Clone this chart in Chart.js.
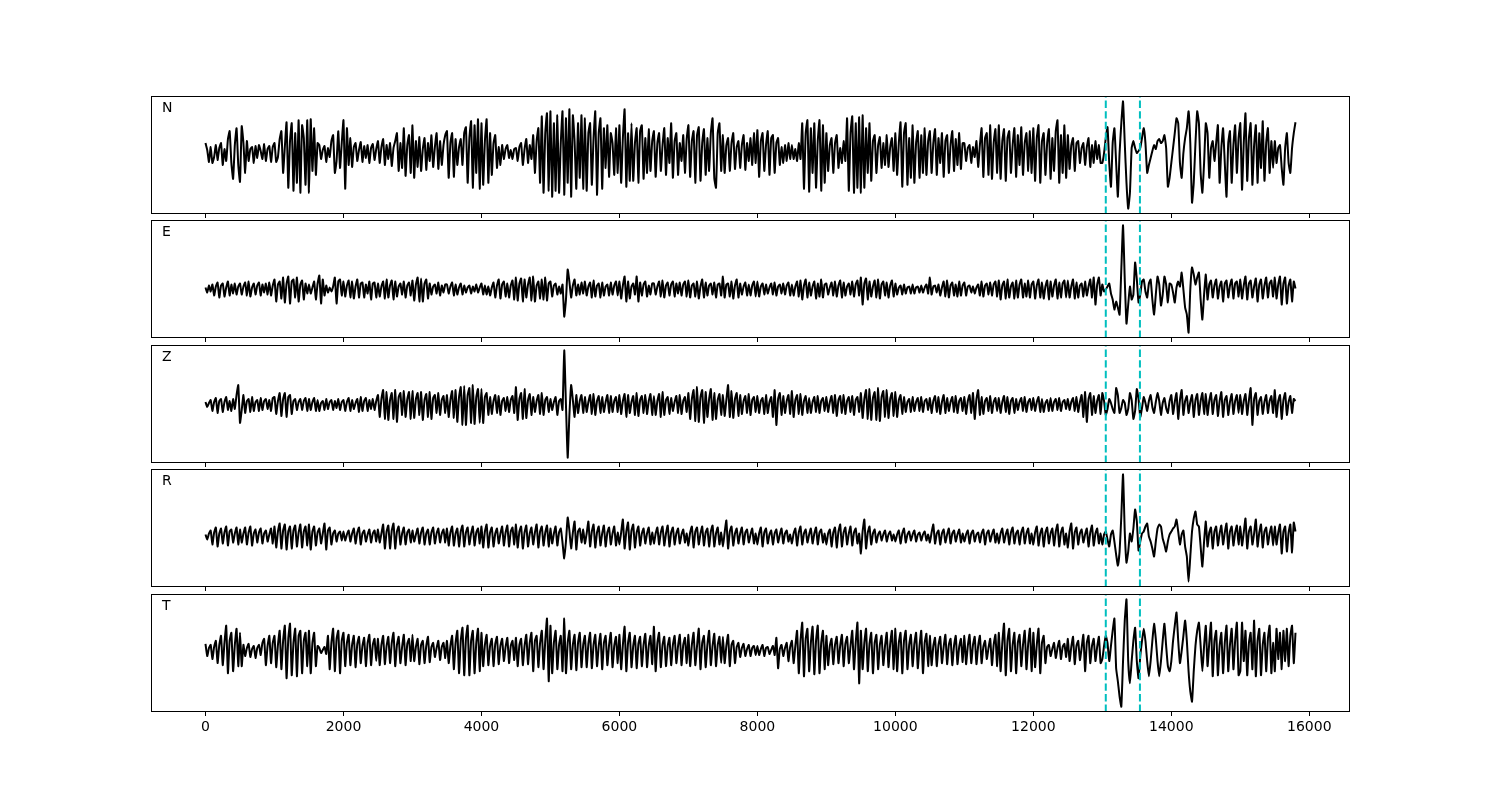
<!DOCTYPE html>
<html>
<head>
<meta charset="utf-8">
<title>Seismogram N E Z R T</title>
<script src="https://cdn.jsdelivr.net/npm/chart.js@4.4.1/dist/chart.umd.min.js"></script>
<style>
  html, body { margin: 0; padding: 0; background: #fff; }
  #fig { position: relative; width: 1500px; height: 800px; background: #fff; }
  #fig canvas { position: absolute; }
</style>
</head>
<body>
<div id="fig"></div>
<script>
// DONNÉES : un échantillon tous les dt (amplitudes), 20 valeurs par ligne = 500 unités
const dt = 25;
const channels = ['N', 'E', 'Z', 'R', 'T'];
const picks = [13050, 13545];
const xTicks = [0, 2000, 4000, 6000, 8000, 10000, 12000, 14000, 16000];

const nData = [
  10,3,-9,6,-10,-4,8,-7,5,10,-12,4,-8,14,22,-10,-26,8,25,-12,
  -29,27,10,-20,12,-8,4,6,-10,7,-5,8,2,-6,9,-8,4,7,-9,6,
  10,-9,-4,14,22,-20,6,31,-35,12,30,-38,20,-30,33,-40,28,15,-32,33,
  -40,34,-18,25,-22,10,8,-6,3,7,-9,5,-4,12,18,-20,-8,22,-15,10,
  33,-36,25,-12,15,-14,6,10,-8,3,11,-9,7,-5,8,-10,5,9,-7,4,
  12,-10,6,14,-12,8,-6,10,-13,5,12,20,-18,10,-15,25,-23,8,18,-20,
  28,-25,12,-14,16,-18,4,15,-17,10,-8,18,-14,6,20,-16,12,-12,8,18,
  22,-25,10,20,-24,14,-12,6,14,-12,20,26,-30,15,32,-35,28,-20,34,-36,
  30,-32,12,34,-30,20,-22,10,18,-15,6,-12,8,-6,4,8,-5,3,-6,4,
  5,-8,6,10,-12,4,14,-10,8,-6,18,-20,12,25,-30,37,-40,20,40,-38,
  42,-44,30,-38,38,-40,10,42,-42,35,-30,44,-44,38,12,-36,30,-25,38,-36,
  35,-38,20,30,-32,15,42,-42,20,35,-36,25,-15,28,-24,20,10,-22,25,-20,
  28,-30,15,44,-34,20,-28,30,-28,10,25,-30,22,28,-26,15,-20,24,-18,12,
  22,-24,10,20,-18,8,25,-22,15,-10,30,-25,12,20,-22,10,-8,18,-20,14,
  28,-24,12,22,-30,18,26,-28,10,24,-22,15,-18,20,35,-25,-35,20,30,-18,
  18,-20,8,15,-18,10,20,-16,6,12,-15,8,18,-17,10,-8,15,-12,20,-10,
  23,-24,12,20,-18,8,22,-22,15,18,-20,10,15,-12,6,-10,8,-8,10,-6,
  8,-6,4,-8,10,-6,30,-36,20,33,-39,25,-20,30,-35,12,33,-38,28,-30,
  20,-18,8,15,-20,10,18,-15,5,-10,12,-8,35,-38,20,37,-40,30,-35,36,
  -40,38,-35,25,-20,30,-28,12,18,-20,8,16,-15,10,-12,18,-14,6,15,-18,
  20,-22,10,31,-34,20,30,-32,15,-25,28,-30,10,22,-25,18,-20,25,-22,12,
  22,-20,10,24,-22,15,-10,20,-24,12,18,-20,8,22,-18,14,-12,20,-16,10,
  10,-8,5,8,-10,6,-4,12,-14,8,25,-24,15,20,-22,28,-26,10,24,-20,
  28,-26,12,24,-28,15,22,-20,8,25,-24,18,-12,26,-22,10,20,-18,22,-20,
  25,-28,15,28,-30,12,20,-22,10,24,-26,15,-18,22,33,-30,18,-20,28,-25,
  18,-16,8,15,-18,10,12,-10,5,10,-12,6,15,-14,8,-10,12,-6,8,-10,
  -10,0,15,26,-10,-34,10,25,-10,-44,0,30,52,10,-30,-56,-40,5,12,5,
  0,2,5,15,25,10,-20,-12,-5,2,8,4,12,14,10,12,18,5,-34,-25,
  -10,5,20,35,30,-10,-25,0,15,25,42,10,-50,-30,10,42,30,-20,-40,-10,
  30,20,-25,5,12,-8,10,28,-30,5,25,-10,-44,10,22,-30,8,28,-20,15,
  30,-37,10,40,-28,15,30,-32,8,28,-30,20,-15,32,-28,10,25,-20,12,-15,
  12,-10,5,8,-15,-32,5,20,-10,-20,5,20,31
];

const eData = [
  2,-3,4,-2,5,-6,3,7,-8,4,6,-7,2,8,-6,5,-4,6,-5,3,
  6,-5,3,7,-6,8,-7,2,6,-5,4,7,-6,5,-3,6,-5,7,-6,4,
  10,-12,5,8,-9,12,-13,6,13,-14,8,10,-8,12,-12,5,9,-10,6,-4,
  5,-4,2,8,-10,6,14,-14,10,-6,4,-3,2,-2,3,12,-14,8,10,-6,
  8,-7,4,9,-8,8,-9,3,10,-8,6,7,-8,5,-4,8,-10,6,7,-8,
  6,-7,3,8,-9,10,-8,4,9,-10,8,-7,3,6,-5,8,-8,4,7,-6,
  9,-11,5,12,-12,11,-12,6,10,-9,6,-5,3,5,-4,7,-6,4,-3,5,
  5,-4,3,7,-6,5,-5,2,6,-5,4,-3,2,4,-4,3,-2,5,-3,2,
  6,-5,4,-5,3,-6,2,7,-8,4,10,-9,5,8,-7,6,-8,4,9,-10,
  12,-11,6,11,-12,10,-8,5,12,-11,13,-12,4,8,-9,10,-10,12,-11,6,
  8,-7,4,6,-5,3,-4,5,-27,-10,20,8,-8,4,10,-6,5,-5,7,-4,
  8,-6,3,7,-8,9,-7,4,6,-8,7,-6,3,5,-6,7,-5,4,8,-6,
  8,-9,4,13,-12,8,-9,3,6,-5,13,-12,7,-6,5,8,-7,4,-5,6,
  6,-5,3,8,-7,9,-8,4,7,-6,5,8,-7,6,-4,7,-6,5,8,-7,
  9,-8,4,6,-7,8,-9,3,10,-8,7,-6,4,6,-5,7,-8,5,6,-6,
  13,-8,5,6,-7,8,-9,4,10,-8,6,-5,3,7,-6,5,-6,4,8,-7,
  8,-7,3,6,-5,5,-4,2,6,-5,7,-6,3,5,-4,6,-5,4,7,-6,
  5,-6,3,8,-7,9,-10,4,10,-8,7,-6,3,8,-9,6,-7,10,-8,5,
  6,-5,2,7,-6,8,-7,4,9,-8,7,-6,3,6,-5,8,-7,5,9,-6,
  12,-15,6,11,-10,8,-7,3,9,-8,10,-9,5,8,-6,7,-8,4,9,-7,
  6,-5,2,4,-5,5,-4,2,3,-4,5,-4,2,3,-3,4,-3,2,5,-4,
  12,-5,3,4,-3,5,-6,2,8,-7,9,-8,4,7,-6,5,-7,8,-6,4,
  7,-6,3,4,-3,3,-4,2,5,-6,8,-7,4,6,-5,7,-6,5,8,-7,
  9,-10,4,8,-9,10,-8,3,7,-9,9,-8,5,10,-8,6,-7,9,-8,5,
  8,-9,4,10,-8,7,-9,3,9,-10,8,-7,4,10,-9,7,-8,6,9,-8,
  9,-8,3,10,-9,7,-8,4,6,-7,8,-6,3,10,-8,12,-15,5,12,-6,
  5,-2,0,3,6,-4,-10,-20,-12,-18,-25,20,64,10,-34,-15,3,-10,-5,27,
  10,-13,-5,8,10,-2,-8,6,10,-10,-25,-5,13,5,-16,-5,13,5,-13,6,
  5,-3,-13,2,8,3,17,0,-18,-25,-43,0,22,15,5,12,17,-10,-30,-5,
  15,-10,5,9,-8,4,10,-9,3,8,-12,6,9,-8,4,10,-9,6,8,-7,
  10,-9,4,13,-10,6,9,-8,3,11,-12,5,10,-9,4,12,-8,6,9,-7,
  12,-9,5,13,-15,6,12,-14,4,10,-12,8,1
];

const zData = [
  3,-2,2,5,-6,3,7,-8,4,6,-7,3,8,-5,4,-6,6,-4,10,20,
  -18,-5,10,-8,4,6,-7,8,-6,3,5,-6,7,-5,4,6,-4,5,-6,7,
  8,-9,4,12,-11,6,12,-12,8,10,-9,4,6,-5,3,6,-5,4,7,-6,
  6,-5,3,7,-6,5,-6,2,4,-5,6,-4,3,5,-5,4,-3,6,-5,3,
  5,-6,3,7,-6,5,-4,2,6,-7,8,-6,4,7,-6,5,-4,6,-5,4,
  10,-12,6,15,-14,13,-15,5,12,-14,15,-17,8,12,-10,14,-12,6,13,-14,
  14,-13,6,12,-10,13,-15,5,11,-12,13,-14,7,10,-8,12,-10,5,9,-8,
  10,-12,5,14,-13,15,-17,8,18,-20,19,-20,10,17,-18,20,-19,8,16,-18,
  16,-18,8,12,-10,8,-9,4,10,-8,9,-10,4,7,-6,8,-7,5,9,-8,
  18,-15,6,12,-14,16,-13,5,11,-10,8,-7,4,10,-9,12,-10,5,8,-7,
  6,-5,3,8,-10,4,6,-5,55,0,-53,-10,20,5,-12,10,-8,4,10,-8,
  8,-7,3,10,-9,11,-10,4,9,-8,8,-7,3,10,-8,9,-7,4,8,-7,
  10,-9,4,11,-12,10,-8,3,9,-10,12,-11,5,9,-8,10,-9,4,11,-10,
  9,-10,4,11,-12,13,-10,5,8,-9,7,-6,3,9,-8,10,-9,4,8,-7,
  12,-14,6,15,-16,18,-17,8,15,-18,13,-12,6,16,-15,12,-14,5,11,-10,
  10,-11,5,20,-12,14,-13,6,12,-11,10,-9,4,9,-8,11,-10,5,8,-7,
  9,-8,4,7,-9,10,-8,3,8,-12,15,-20,6,12,-10,9,-8,4,10,-9,
  14,-12,5,10,-9,11,-10,4,9,-8,7,-8,3,8,-7,9,-8,4,7,-6,
  8,-7,3,9,-8,10,-11,5,9,-8,10,-9,4,8,-7,9,-10,5,8,-7,
  12,-13,6,15,-14,16,-15,7,13,-15,17,-16,8,14,-12,15,-13,6,12,-11,
  13,-12,5,10,-9,8,-7,3,6,-7,8,-6,3,7,-6,8,-7,4,6,-5,
  7,-8,4,9,-7,8,-9,3,10,-8,7,-6,3,8,-7,9,-8,4,7,-6,
  8,-9,4,10,-8,12,-14,6,15,-10,8,-9,4,7,-6,9,-8,3,7,-6,
  7,-8,3,9,-7,8,-9,4,7,-8,6,-5,3,7,-6,8,-7,3,6,-5,
  7,-6,3,8,-7,6,-7,2,5,-6,7,-6,3,6,-5,7,-6,3,5,-4,
  6,-5,3,7,-6,8,-7,3,10,-12,13,-17,6,12,-10,9,-8,4,10,-9,
  12,4,-10,-4,6,2,-4,-8,17,10,-8,-3,5,2,-10,-4,12,5,-14,-6,
  16,6,-12,-3,8,2,-6,4,10,-2,-8,3,12,4,-10,2,7,-3,-8,4,
  10,-9,3,12,-14,5,15,-10,4,9,-8,3,10,-12,5,11,-10,4,12,-9,
  11,-10,4,12,-9,5,10,-11,4,13,-12,5,9,-10,3,11,-9,4,10,-8,
  10,-9,4,11,-10,5,17,-20,6,12,-10,4,8,-9,3,10,-8,4,9,-8,
  15,-12,4,10,-14,5,12,-10,3,9,-8,6,4
];

const rData = [
  2,-3,3,6,-8,4,9,-10,3,8,-7,4,10,-9,5,7,-6,3,9,-8,
  7,-6,3,9,-8,4,10,-9,3,7,-6,4,8,-7,3,6,-5,2,8,-7,
  10,-11,5,13,-12,6,12,-13,5,10,-12,6,11,-10,4,12,-11,5,10,-9,
  12,-13,5,10,-9,4,8,-7,3,13,-13,6,9,-8,3,6,-5,3,5,-4,
  5,-4,2,6,-5,3,8,-7,4,9,-8,3,6,-5,2,7,-6,3,6,-5,
  7,-6,3,12,-12,5,11,-12,6,13,-12,5,10,-8,3,9,-8,4,7,-6,
  6,-5,2,8,-7,4,9,-8,3,7,-8,4,9,-7,3,8,-6,3,7,-6,
  8,-9,4,10,-9,3,8,-10,5,11,-10,4,9,-8,3,10,-9,4,8,-7,
  10,-11,5,12,-11,4,9,-10,3,8,-7,3,10,-9,4,11,-10,5,9,-8,
  12,-11,5,10,-12,4,11,-10,3,9,-8,4,12,-11,5,10,-9,4,11,-10,
  8,-7,3,10,-9,4,8,-6,-22,-5,19,6,-12,4,15,-13,5,8,-6,7,
  -7,3,15,-10,5,12,-11,4,10,-9,3,11,-10,4,9,-8,3,10,-9,4,
  -8,4,17,-12,5,14,-13,6,12,-11,4,10,-9,3,8,-7,3,9,-8,4,
  -7,3,9,-8,4,10,-9,3,11,-10,4,9,-8,3,8,-7,2,7,-6,3,
  -9,4,10,-11,5,9,-8,3,10,-9,4,8,-10,5,11,-10,3,9,-8,4,
  -10,4,16,-12,5,10,-9,3,8,-7,3,9,-8,4,7,-6,2,8,-7,3,
  -8,3,9,-10,4,8,-7,2,6,-8,3,7,-6,2,8,-7,3,6,-5,2,
  -7,3,8,-9,4,10,-8,3,7,-6,2,8,-7,3,9,-8,4,7,-6,3,
  -8,3,7,-10,4,9,-11,5,12,-10,4,9,-8,3,10,-9,4,8,-7,3,
  -17,5,17,-12,4,10,-8,3,7,-6,2,5,-4,2,6,-5,2,5,-4,2,
  -5,2,6,-7,3,8,-6,2,5,-4,2,6,-5,2,4,-4,2,5,-4,2,
  -6,4,12,-7,3,6,-8,3,7,-6,2,8,-7,3,6,-5,2,7,-6,3,
  -5,2,6,-7,3,6,-5,2,4,-6,3,7,-8,3,6,-5,2,7,-6,3,
  -7,3,8,-6,2,7,-8,4,9,-7,3,6,-8,4,9,-7,3,8,-7,3,
  -8,4,10,-9,3,8,-10,4,9,-7,3,8,-9,5,12,-10,4,9,-8,3,
  -11,5,13,-12,4,9,-8,3,7,-6,2,8,-10,4,11,-9,3,8,-7,3,
  -8,2,5,-3,-10,2,6,-5,-18,-29,-15,20,62,5,-26,-15,3,-5,8,27,
  15,-14,-5,3,5,10,13,0,-5,-12,-20,-5,8,12,10,-2,-8,-15,-5,2,
  5,8,10,17,5,-8,2,6,-10,-20,-45,-20,5,18,25,12,10,-10,-30,-5,
  15,-10,4,9,-12,5,10,-9,3,11,-8,4,13,-12,5,10,-9,4,11,-8,
  10,-9,4,18,-12,5,10,-8,3,17,-10,4,12,-11,5,9,-8,3,10,-9,
  10,-8,4,12,-17,5,10,-15,4,12,-16,14,5
];

const tData = [
  7,-5,3,6,-8,4,10,-12,6,15,-14,8,25,-22,10,18,-20,6,22,-15,
  18,-15,6,-5,3,7,-6,2,5,-7,3,6,-4,8,12,-14,5,15,-12,8,
  15,-16,6,20,-18,10,25,-27,12,27,-24,8,22,-25,15,20,-22,10,18,-15,
  20,-22,8,18,-15,5,3,-2,1,4,-3,15,-18,8,22,-20,12,20,-22,10,
  18,-15,8,16,-14,6,15,-16,7,14,-12,5,13,-15,8,16,-14,6,12,-10,
  12,-14,6,15,-13,5,14,-12,8,18,-15,6,14,-12,4,16,-14,7,12,-10,
  16,-10,4,12,-13,6,10,-12,5,14,-11,4,8,-6,3,10,-9,4,8,-7,
  10,-12,5,15,-18,8,20,-22,10,23,-24,12,25,-24,10,20,-22,8,22,-20,
  18,-15,6,16,-14,5,12,-15,7,14,-13,5,12,-10,4,13,-12,5,10,-9,
  13,-15,6,12,-14,5,16,-13,8,18,-20,10,15,-16,8,20,-18,10,32,-30,
  25,-22,8,20,-18,6,15,-20,32,-22,8,20,-18,6,16,-19,8,18,-16,6,
  15,-16,7,18,-17,6,16,-15,5,17,-18,8,15,-14,6,18,-16,5,14,-12,
  16,-18,6,24,-20,8,18,-16,5,15,-17,7,14,-15,6,17,-16,5,15,-13,
  24,-20,8,18,-16,6,14,-15,5,13,-14,6,15,-12,5,16,-14,6,13,-12,
  16,-15,6,18,-14,5,22,-18,8,15,-16,6,20,-14,5,17,-15,6,14,-12,
  14,-12,5,16,-15,6,10,-12,4,8,-6,3,7,-5,2,6,-5,3,5,-4,
  5,-4,2,6,-5,3,4,-3,1,5,-4,13,-17,2,6,-5,3,8,-10,4,
  10,-12,5,20,-22,10,28,-25,12,22,-20,8,24,-23,10,25,-22,8,20,-18,
  15,-14,5,12,-13,6,14,-12,5,16,-15,7,14,-12,5,20,-18,8,28,-32,
  20,-18,8,22,-20,7,18,-22,8,16,-18,6,15,-14,5,18,-16,7,20,-18,
  22,-20,8,18,-22,10,20,-18,6,16,-15,7,18,-17,5,20,-22,8,17,-15,
  15,-14,5,13,-15,6,14,-12,4,16,-13,6,12,-14,5,15,-13,4,12,-11,
  15,-13,5,16,-12,6,14,-13,5,15,-12,4,10,-8,3,12,-14,6,16,-15,
  18,-20,8,27,-24,10,22,-20,6,18,-22,8,16,-15,6,20,-18,7,22,-20,
  18,-16,6,22,-22,8,15,-12,4,6,-5,2,8,-7,3,10,-8,4,7,-6,
  12,-10,4,14,-13,5,10,-9,3,16,-20,8,15,-12,5,12,-10,4,14,-12,
  -8,5,15,8,-10,5,20,32,-17,-30,-45,-55,-10,30,51,-10,-32,-10,10,23,
  -10,-27,-5,10,22,10,-10,-25,-10,10,27,12,-10,-25,-10,10,27,5,-15,-20,
  -10,10,25,38,10,-12,0,15,30,10,-20,-40,-50,-20,5,20,28,5,-20,5,
  25,-15,8,28,-25,10,20,-24,5,18,-22,8,25,-20,6,22,-18,10,28,-24,
  -20,28,-10,20,-24,8,18,-18,30,-25,10,22,-24,6,18,-20,12,25,-22,8,
  -20,22,-8,18,-18,20,-10,22,-15,15,25,-12,18
];

const traces = [nData, eData, zData, rData, tData];

// axe des temps partagé (marge 5% comme matplotlib)
const tEnd = (nData.length - 1) * dt;
const xMin = -0.05 * tEnd, xMax = tEnd * 1.05;

// Mise en page des 5 panneaux
const panelTops = [96, 220, 345, 469, 594];
const panelH = 118;
const pad = 2;

// cadre, pointés en tirets et nom de la composante
const panelDecor = {
  id: 'panelDecor',
  afterDatasetsDraw(chart, args, opts) {
    const { ctx, chartArea: a, scales: { x } } = chart;
    ctx.save();
    ctx.strokeStyle = '#00bfbf';
    ctx.lineWidth = 2;
    ctx.setLineDash([7.4, 3.2]);
    picks.forEach(p => {
      const px = x.getPixelForValue(p);
      ctx.beginPath();
      ctx.moveTo(px, a.bottom);
      ctx.lineTo(px, a.top);
      ctx.stroke();
    });
    ctx.setLineDash([]);
    ctx.strokeStyle = '#000';
    ctx.lineWidth = 1;
    ctx.strokeRect(Math.round(a.left) + 0.5, Math.round(a.top) + 0.5,
      Math.round(a.right - a.left) - 1, Math.round(a.bottom - a.top) - 1);
    ctx.fillStyle = '#000';
    ctx.font = '14px "DejaVu Sans", sans-serif';
    ctx.textBaseline = 'middle';
    ctx.fillText(opts.label, a.left + 11, a.top + 12);
    ctx.restore();
  }
};

const fig = document.getElementById('fig');

traces.forEach((vals, i) => {
  const last = i === traces.length - 1;
  const axisH = last ? 30 : 5;
  const canvas = document.createElement('canvas');
  canvas.width = 1199 + 2 * pad;
  canvas.height = panelH + pad + axisH;
  canvas.style.left = (151 - pad) + 'px';
  canvas.style.top = (panelTops[i] - pad) + 'px';
  fig.appendChild(canvas);

  const lo = Math.min(...vals), hi = Math.max(...vals);
  const m = (hi - lo) * 0.05;

  new Chart(canvas.getContext('2d'), {
    type: 'line',
    data: {
      datasets: [{
        data: vals.map((v, k) => ({ x: k * dt, y: v })),
        borderColor: '#000',
        borderWidth: 2,
        pointRadius: 0,
        tension: 0.15,
        borderJoinStyle: 'round',
        fill: false
      }]
    },
    options: {
      responsive: false,
      animation: false,
      devicePixelRatio: 1,
      layout: { padding: { top: pad, left: pad, right: pad, bottom: 0 } },
      plugins: {
        legend: { display: false },
        tooltip: { enabled: false },
        panelDecor: { label: channels[i] }
      },
      scales: {
        x: {
          type: 'linear',
          min: xMin,
          max: xMax,
          afterBuildTicks: s => { s.ticks = xTicks.map(v => ({ value: v })); },
          afterFit: s => { s.height = axisH; },
          grid: { drawOnChartArea: false, drawTicks: true, tickLength: 4, color: '#000', lineWidth: 1 },
          border: { display: false },
          ticks: {
            autoSkip: false,
            maxRotation: 0,
            padding: 3,
            color: '#000',
            font: { family: 'DejaVu Sans', size: 14 },
            callback: v => last ? String(v) : ''
          }
        },
        y: { display: false, min: lo - m, max: hi + m }
      }
    },
    plugins: [panelDecor]
  });
});
</script>
</body>
</html>
